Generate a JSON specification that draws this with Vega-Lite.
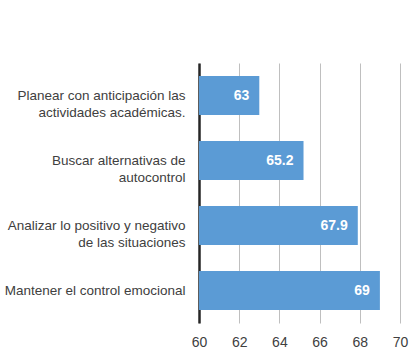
{
  "$schema": "https://vega.github.io/schema/vega-lite/v6.json",
  "width": 201,
  "height": 260,
  "autosize": {"type": "none"},
  "padding": {"left": 199, "top": 63, "right": 20, "bottom": 40},
  "background": "white",
  "data": {
    "values": [
      {"categoria": "Planear con anticipación las|actividades académicas.", "valor": 63},
      {"categoria": "Buscar alternativas de|autocontrol", "valor": 65.2},
      {"categoria": "Analizar lo positivo y negativo|de las situaciones", "valor": 67.9},
      {"categoria": "Mantener el control emocional", "valor": 69}
    ]
  },
  "encoding": {
    "y": {
      "field": "categoria",
      "type": "nominal",
      "sort": null,
      "scale": {"paddingInner": 0.4, "paddingOuter": 0.2},
      "axis": {
        "title": null,
        "ticks": false,
        "tickSize": 0,
        "domain": true,
        "domainColor": "#262626",
        "domainWidth": 2.5,
        "labelPadding": 14,
        "labelFont": "Liberation Sans",
        "labelFontSize": 13.5,
        "labelColor": "#404040",
        "labelLineHeight": 17,
        "labelExpr": "split(datum.label, '|')",
        "labelLimit": 220
      }
    }
  },
  "layer": [
    {
      "mark": {"type": "bar", "color": "#5B9BD5"},
      "encoding": {
        "x": {
          "field": "valor",
          "type": "quantitative",
          "scale": {"domain": [60, 70], "nice": false, "zero": false},
          "axis": {
            "title": null,
            "values": [60, 62, 64, 66, 68, 70],
            "domain": false,
            "ticks": false,
            "tickSize": 0,
            "grid": true,
            "gridColor": "#bfbfbf",
            "gridWidth": 1,
            "labelFlush": false,
            "labelPadding": 12,
            "labelFont": "Liberation Sans",
            "labelFontSize": 14,
            "labelColor": "#404040"
          }
        },
        "x2": {"datum": 60}
      }
    },
    {
      "mark": {"type": "text", "align": "right", "dx": -10, "color": "white", "fontWeight": "bold", "font": "Liberation Sans", "fontSize": 14},
      "encoding": {
        "x": {"field": "valor", "type": "quantitative"},
        "text": {"field": "valor", "type": "quantitative", "format": ".3~f"}
      }
    }
  ],
  "config": {"view": {"stroke": null}}
}
